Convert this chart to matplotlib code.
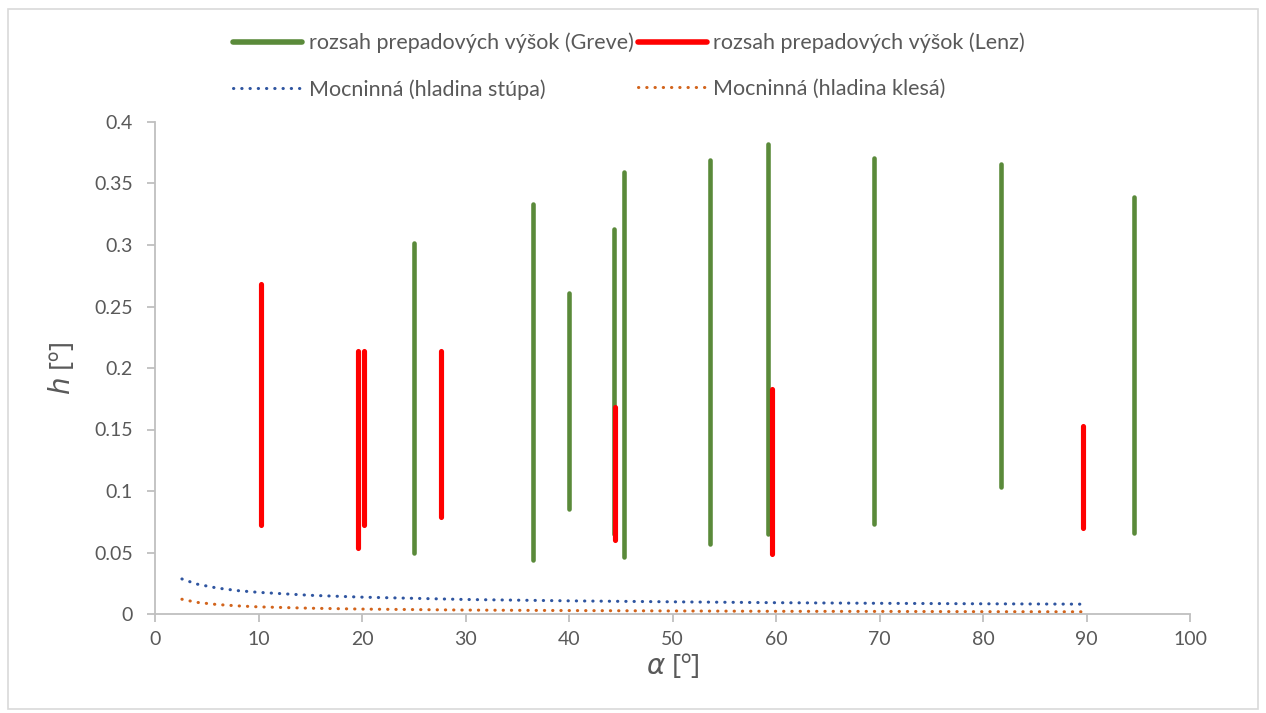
import matplotlib
matplotlib.use("Agg")
import matplotlib.pyplot as plt
from matplotlib.patches import Rectangle
from matplotlib.ticker import FuncFormatter

# range of overflow heights (Greve)
greve_alpha = [25.0, 36.5, 40.0, 44.3, 45.3, 53.6, 59.2, 69.5, 81.7, 94.6]
greve_low = [0.050, 0.044, 0.085, 0.065, 0.046, 0.057, 0.065, 0.073, 0.103, 0.066]
greve_high = [0.302, 0.333, 0.261, 0.313, 0.359, 0.369, 0.382, 0.371, 0.366, 0.339]

# range of overflow heights (Lenz)
lenz_alpha = [10.2, 19.6, 20.2, 27.6, 44.4, 59.6, 89.7]
lenz_low = [0.072, 0.054, 0.072, 0.079, 0.060, 0.049, 0.070]
lenz_high = [0.268, 0.214, 0.214, 0.214, 0.168, 0.183, 0.153]

# power trendlines, values
trend_alpha = [2.6, 4, 6, 8, 10, 15, 20, 30, 40, 50, 60, 70, 80, 89.6]
trend_rise = [0.0285, 0.0244, 0.0211, 0.0190, 0.0176, 0.0152, 0.0137, 0.0118,
              0.0107, 0.0099, 0.0092, 0.0087, 0.0083, 0.0080]
trend_fall = [0.0120, 0.0095, 0.0077, 0.0066, 0.0058, 0.0047, 0.0040, 0.0032,
              0.0028, 0.0025, 0.0022, 0.0021, 0.0019, 0.0018]

labels = ["rozsah prepadových výšok (Greve)", "rozsah prepadových výšok (Lenz)",
          "Mocninná (hladina stúpa)", "Mocninná (hladina klesá)"]

plt.rcParams['font.family'] = ['Lato', 'DejaVu Sans']
plt.rcParams['mathtext.fontset'] = 'custom'
plt.rcParams['mathtext.it'] = 'DejaVu Sans:italic'
plt.rcParams['mathtext.rm'] = 'Lato'

text_col = '#595959'
axis_col = '#bfbfbf'
green = '#5a8a3a'
red = '#ff0000'
blue = '#2f55a0'
orange = '#d2641c'

fig = plt.figure(figsize=(12.66, 7.13), dpi=100)
ax = fig.add_axes([155 / 1266, 1 - 614 / 713, 1035 / 1266, 492 / 713])

for i, a in enumerate(greve_alpha):
    g, = ax.plot([a, a], [greve_low[i], greve_high[i]], color=green, lw=3.3,
                 solid_capstyle='round')
for i, a in enumerate(lenz_alpha):
    r, = ax.plot([a, a], [lenz_low[i], lenz_high[i]], color=red, lw=3.7,
                 solid_capstyle='round')

dots = (0, (0.1, 2.6))
b, = ax.plot(trend_alpha, trend_rise, color=blue, lw=2.2, linestyle=dots,
             dash_capstyle='round')
o, = ax.plot(trend_alpha, trend_fall, color=orange, lw=2.2, linestyle=dots,
             dash_capstyle='round')

ax.set_xlim(0, 100)
ax.set_ylim(0, 0.4)
ax.set_xticks(range(0, 101, 10))
ax.set_yticks([i * 0.05 for i in range(9)])
ax.yaxis.set_major_formatter(FuncFormatter(lambda v, p: ('%.2f' % v).rstrip('0').rstrip('.')))

for s in ['top', 'right']:
    ax.spines[s].set_visible(False)
for s in ['left', 'bottom']:
    ax.spines[s].set_color(axis_col)
    ax.spines[s].set_linewidth(1.3)
ax.tick_params(colors=axis_col, labelcolor=text_col, labelsize=14, length=6, width=1.3)
ax.tick_params(axis='y', pad=10)
ax.tick_params(axis='x', pad=6)

ax.set_xlabel(r'$\alpha$ [º]', fontsize=20, color=text_col, labelpad=3,
              family=['Open Sans', 'DejaVu Sans'])
ax.set_ylabel(r'$h$ [º]', fontsize=20, color=text_col, labelpad=12,
              family=['Open Sans', 'DejaVu Sans'])

leg = fig.legend([g, b, r, o], [labels[0], labels[2], labels[1], labels[3]],
                 ncol=2, loc='center', bbox_to_anchor=(0.497, 1 - 66 / 713),
                 frameon=False, fontsize=15.5, handlelength=3.2, handletextpad=0.3,
                 columnspacing=0.2, labelspacing=1.2, labelcolor=text_col)
for ln in leg.get_lines()[:1] + leg.get_lines()[2:3]:
    ln.set_linewidth(4.0)

fig.patches.append(Rectangle((8 / 1266, 4 / 713), 1250 / 1266, 700 / 713,
                             transform=fig.transFigure, fill=False,
                             edgecolor='#d9d9d9', lw=1.2))

fig.savefig('out.png', dpi=100)
